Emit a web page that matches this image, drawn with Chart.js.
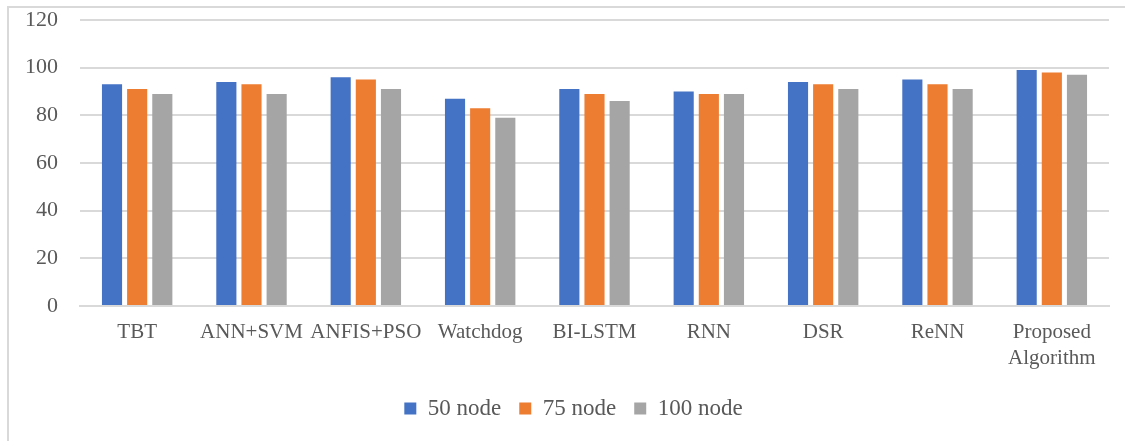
<!DOCTYPE html>
<html>
<head>
<meta charset="utf-8">
<script src="https://cdn.jsdelivr.net/npm/chart.js@4/dist/chart.umd.min.js"></script>
<style>
  html, body { margin: 0; padding: 0; background: #ffffff; }
  #wrap { position: relative; width: 1125px; height: 441px; overflow: hidden; }
  #frame { position: absolute; left: 7px; top: 6px; width: 1200px; height: 500px;
           border-left: 2px solid #d9d9d9; border-top: 2px solid #d9d9d9; }
  #c { position: absolute; left: 0; top: 0; }
</style>
</head>
<body>
<div id="wrap">
  <div id="frame"></div>
  <canvas id="c" width="1125" height="441"></canvas>
</div>
<script>
// Methods compared
const categories = ['TBT', 'ANN+SVM', 'ANFIS+PSO', 'Watchdog', 'BI-LSTM', 'RNN', 'DSR', 'ReNN', ['Proposed', 'Algorithm']];

// Results per network size
const node50  = [93, 94, 96, 87, 91, 90, 94, 95, 99];
const node75  = [91, 93, 95, 83, 89, 89, 93, 93, 98];
const node100 = [89, 89, 91, 79, 86, 89, 91, 91, 97];

const seriesNames = ['50 node', '75 node', '100 node'];
const seriesColors = ['#4472C4', '#ED7D31', '#A5A5A5'];

const yTicks = [0, 20, 40, 60, 80, 100, 120];

const textColor = '#595959';
const gridColor = '#d9d9d9';
const fontFamily = '"Liberation Serif", "Times New Roman", serif';

// Nudge the bottom legend a little to the right of the canvas centre
const legendShift = {
  id: 'legendShift',
  afterLayout(chart) {
    const lg = chart.legend;
    if (lg) { lg.left += 19; lg.right += 19; }
  }
};

new Chart(document.getElementById('c'), {
  type: 'bar',
  data: {
    labels: categories,
    datasets: [node50, node75, node100].map((vals, i) => ({
      label: seriesNames[i],
      data: vals,
      backgroundColor: seriesColors[i],
      borderWidth: 0,
      categoryPercentage: 0.66,
      barPercentage: 0.8
    }))
  },
  plugins: [legendShift],
  options: {
    responsive: false,
    animation: false,
    layout: { padding: { left: 0, right: 16, top: 20, bottom: 11 } },
    plugins: {
      tooltip: { enabled: false },
      legend: {
        position: 'bottom',
        labels: {
          color: textColor,
          font: { family: fontFamily, size: 23 },
          boxWidth: 12,
          boxHeight: 12,
          padding: 18
        }
      }
    },
    scales: {
      x: {
        afterFit: (axis) => { axis.height = 73; },
        grid: { display: false, drawTicks: false },
        border: { display: true, color: gridColor, width: 2 },
        ticks: {
          color: textColor,
          font: { family: fontFamily, size: 21, lineHeight: 1.25 },
          padding: 13,
          maxRotation: 0,
          autoSkip: false
        }
      },
      y: {
        min: 0,
        max: 120,
        afterBuildTicks: (axis) => { axis.ticks = yTicks.map(v => ({ value: v })); },
        afterFit: (axis) => {
          axis.width = 80;
          axis.paddingTop = 0;
          axis.paddingBottom = 0;
        },
        grid: { color: gridColor, lineWidth: 2, drawTicks: false },
        border: { display: false },
        ticks: {
          color: textColor,
          font: { family: fontFamily, size: 22 },
          padding: 22
        }
      }
    }
  }
});
</script>
</body>
</html>
